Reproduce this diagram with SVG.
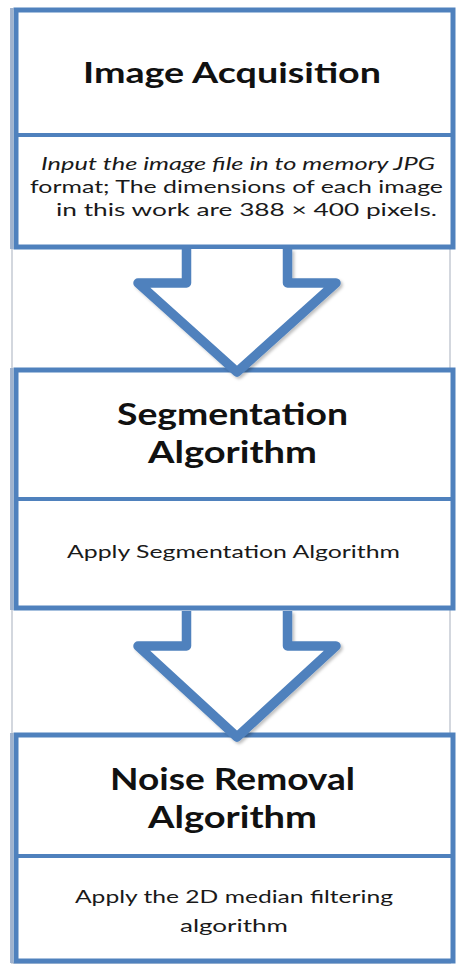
<svg xmlns="http://www.w3.org/2000/svg" width="457" height="967" viewBox="0 0 457 967">
  <style>
    .frame { fill: #ffffff; stroke: #d3d7de; stroke-width: 2; }
    .box { fill: #ffffff; stroke: #4f81bd; stroke-width: 5; }
    .edge { stroke: #9fb2cd; stroke-width: 3.5; fill: none; }
    .sep { stroke: #4f81bd; stroke-width: 4; }
    .arrow { fill: #ffffff; stroke: #4f81bd; stroke-width: 9.5; stroke-linejoin: round; filter: url(#sh); }
    .title { font-family: Lato, "Open Sans", "Liberation Sans", sans-serif; font-weight: bold; fill: #111111; }
    .body { font-family: Lato, "Open Sans", "Liberation Sans", sans-serif; font-size: 17.5px; fill: #1a1a1a; }
  </style>
  <defs>
    <filter id="sh" x="-10%" y="-10%" width="130%" height="130%">
      <feDropShadow dx="2" dy="2" stdDeviation="1.5" flood-color="#000000" flood-opacity="0.25"/>
    </filter>
  </defs>
  <rect width="457" height="967" fill="#ffffff"/>
  <rect class="frame" x="12" y="9" width="438" height="954"/>

  <g id="node-image-acquisition">
    <rect class="box" x="16" y="10" width="437" height="237"/>
    <line class="edge" x1="11.8" y1="8" x2="11.8" y2="249"/>
    <line class="sep" x1="16" y1="135" x2="453" y2="135"/>
    <text class="title" x="83" y="83" font-size="29" textLength="298" lengthAdjust="spacingAndGlyphs">Image Acquisition</text>
    <text class="body" x="41" y="170" font-style="italic" textLength="394" lengthAdjust="spacingAndGlyphs">Input the image file in to memory JPG</text>
    <text class="body" x="30" y="193" textLength="413" lengthAdjust="spacingAndGlyphs">format; The dimensions of each image</text>
    <text class="body" x="56" y="216" textLength="381" lengthAdjust="spacingAndGlyphs">in this work are 388 × 400 pixels.</text>
  </g>

  <g id="node-segmentation">
    <rect class="box" x="16" y="370" width="437" height="238"/>
    <line class="edge" x1="11.8" y1="368" x2="11.8" y2="610"/>
    <line class="sep" x1="16" y1="499" x2="453" y2="499"/>
    <text class="title" x="117" y="425" font-size="31" textLength="231" lengthAdjust="spacingAndGlyphs">Segmentation</text>
    <text class="title" x="148" y="463" font-size="31" textLength="169" lengthAdjust="spacingAndGlyphs">Algorithm</text>
    <text class="body" x="67" y="558" textLength="333" lengthAdjust="spacingAndGlyphs">Apply Segmentation Algorithm</text>
  </g>

  <g id="node-noise-removal">
    <rect class="box" x="16" y="735" width="437" height="226"/>
    <line class="edge" x1="11.8" y1="733" x2="11.8" y2="963"/>
    <line class="sep" x1="16" y1="856" x2="453" y2="856"/>
    <text class="title" x="110" y="790" font-size="31" textLength="245" lengthAdjust="spacingAndGlyphs">Noise Removal</text>
    <text class="title" x="148" y="828" font-size="31" textLength="169" lengthAdjust="spacingAndGlyphs">Algorithm</text>
    <text class="body" x="75" y="903" textLength="318" lengthAdjust="spacingAndGlyphs">Apply the 2D median filtering</text>
    <text class="body" x="180" y="932" textLength="108" lengthAdjust="spacingAndGlyphs">algorithm</text>
  </g>

  <g id="connectors">
    <path class="arrow" d="M186.5,249 V283 H138 L237,372 L336,283 H287.5 V249"/>
    <path class="arrow" d="M186.5,611 V646 H138 L237,737 L336,646 H287.5 V611"/>
  </g>
</svg>
